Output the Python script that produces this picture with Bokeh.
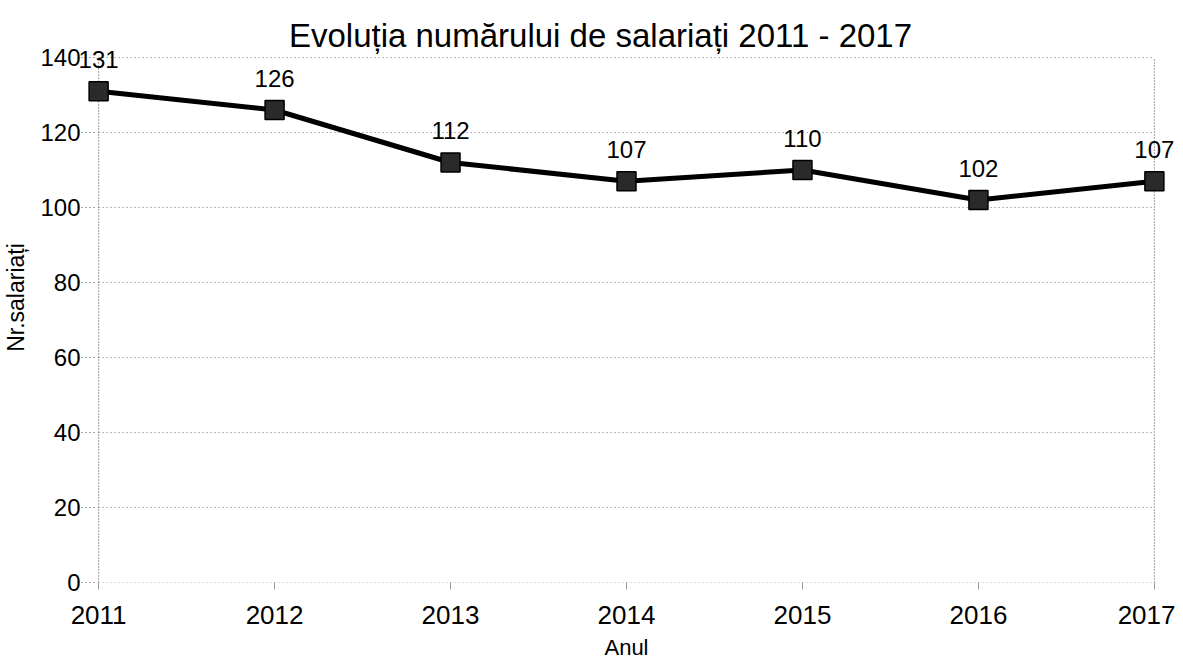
from bokeh.plotting import figure
from bokeh.models import ColumnDataSource, LabelSet, Label, FixedTicker, Range1d
from bokeh.core.properties import value
from bokeh.embed import file_html
from bokeh.resources import INLINE

years = [2011, 2012, 2013, 2014, 2015, 2016, 2017]
employees = [131, 126, 112, 107, 110, 102, 107]
y_ticks = [0, 20, 40, 60, 80, 100, 120, 140]
title_text = "Evoluția numărului de salariați 2011 - 2017"
x_label = "Anul"
y_label = "Nr.salariați"

FONT = "Liberation Sans"
GRID = "#7a7a7a"

src = ColumnDataSource(dict(x=years, y=employees, lbl=[str(v) for v in employees]))

p = figure(width=1175, height=662, output_backend="svg", toolbar_location=None,
           x_range=Range1d(years[0] - 0.12, years[-1] + 0.12),
           y_range=Range1d(0, 152),
           min_border_left=77, min_border_right=0, min_border_top=12, min_border_bottom=80)
p.outline_line_color = None
p.background_fill_color = "white"
p.xgrid.grid_line_color = None
p.ygrid.grid_line_color = None

# dotted grid (only inside the 2011-2017 x 0-140 box, as in the reference)
p.segment(x0=[years[0]] * len(y_ticks), y0=y_ticks, x1=[years[-1]] * len(y_ticks), y1=y_ticks,
          line_color=GRID, line_width=1, line_dash="1 3")
p.segment(x0=[years[0], years[-1]], y0=[y_ticks[0]] * 2, x1=[years[0], years[-1]], y1=[y_ticks[-1]] * 2,
          line_color="#444444", line_width=1, line_dash="1 2")

p.line("x", "y", source=src, line_color="black", line_width=5)
p.scatter("x", "y", source=src, marker="square", size=19, fill_color="#2a2a2a",
          line_color="black", line_width=1.5)

labels = LabelSet(x="x", y="y", text="lbl", source=src, y_offset=32,
                  text_align="center", text_baseline="middle",
                  text_font=value(FONT), text_font_size=value("24px"), text_color="black")
p.add_layout(labels)

title = Label(x=523, y=547, x_units="screen", y_units="screen", text=title_text,
              text_font=FONT, text_font_size="33px", text_align="center",
              text_baseline="middle", text_color="black")
p.add_layout(title)

p.xaxis.ticker = FixedTicker(ticks=years)
p.yaxis.ticker = FixedTicker(ticks=y_ticks)
p.xaxis.bounds = (years[0], years[-1])
p.yaxis.bounds = (y_ticks[0], y_ticks[-1])

for ax in (p.xaxis, p.yaxis):
    ax.axis_line_color = None
    ax.major_tick_line_color = "#999999"
    ax.minor_tick_line_color = None
    ax.major_label_text_font = FONT
    ax.major_label_text_font_size = "24px"
    ax.major_label_text_color = "black"
    ax.axis_label_text_font = FONT
    ax.axis_label_text_font_size = "22px"
    ax.axis_label_text_font_style = "normal"
    ax.axis_label_text_color = "black"

p.xaxis.major_tick_in = 0
p.xaxis.major_tick_out = 7
p.xaxis.major_label_text_font_size = "26px"
p.xaxis.major_label_standoff = 16
p.xaxis.axis_label = x_label
p.xaxis.axis_label_standoff = 8

p.yaxis.major_tick_in = 19
p.yaxis.major_tick_out = 0
p.yaxis.major_tick_line_dash = "1 3"
p.yaxis.major_tick_line_color = "#555555"
p.yaxis.major_label_standoff = -3
p.yaxis.axis_label = y_label
p.yaxis.axis_label_text_font_size = "23px"
p.yaxis.axis_label_standoff = 8

open("out.html", "w").write(file_html(p, INLINE))
